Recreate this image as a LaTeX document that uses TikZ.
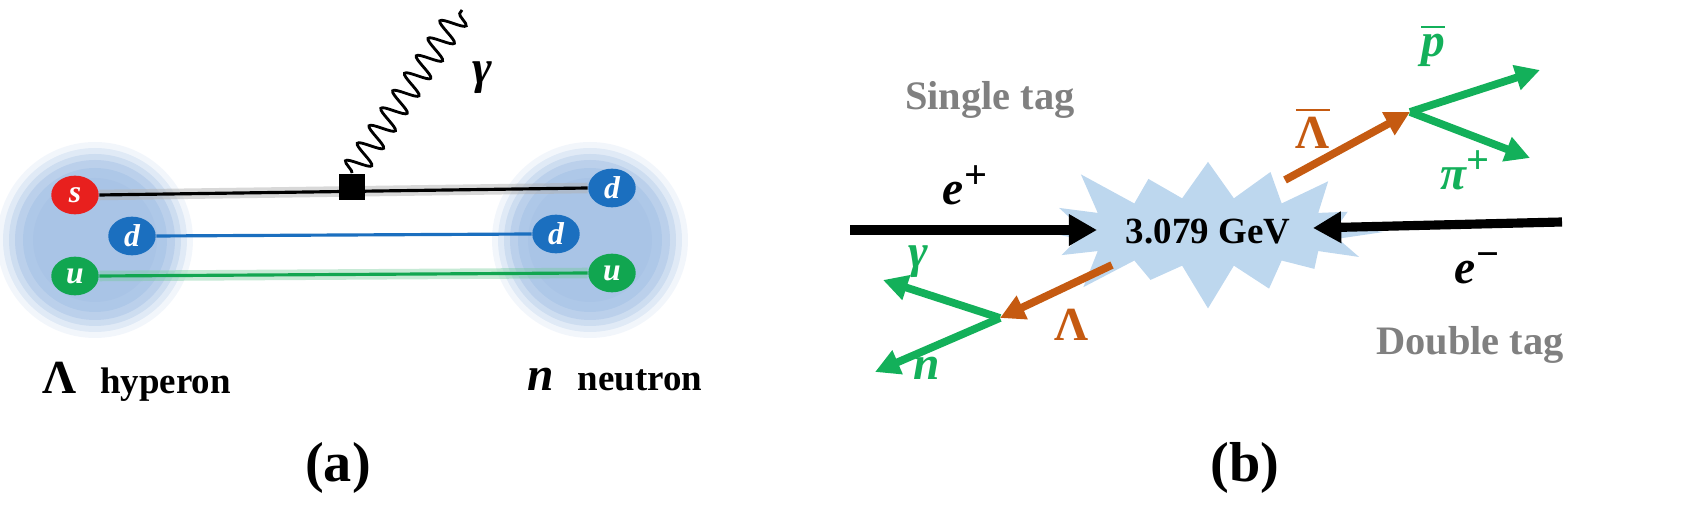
\documentclass[tikz,border=0pt]{standalone}
\usepackage{amsmath}
\usepackage{fontspec}
\setmainfont{Liberation Serif}
\usetikzlibrary{shapes.symbols,shapes.geometric,decorations.pathmorphing,arrows.meta}
\definecolor{blob}{HTML}{A9C4E6}
\definecolor{qred}{HTML}{E8201E}
\definecolor{qblue}{HTML}{1B6FBF}
\definecolor{qgreen}{HTML}{11A650}
\definecolor{pgreen}{HTML}{13B05A}
\definecolor{porange}{HTML}{C55A11}
\definecolor{tgray}{HTML}{808080}
\definecolor{burst}{HTML}{BDD7EE}
\newcommand{\bi}[1]{\textbf{\textit{#1}}}
\newcommand{\bsup}[1]{\raisebox{0.75ex}{\fontsize{11.5}{12}\selectfont\textbf{#1}}}
\tikzset{
 quark/.style={ellipse,minimum width=13.5pt,minimum height=11pt,inner sep=0pt,text=white,font=\fontsize{9}{10}\selectfont\bfseries\itshape},
 lbl/.style={font=\fontsize{13.5}{15}\selectfont\bfseries},
 garrow/.style={pgreen,line width=2.2pt,-{Triangle[length=7pt,width=7pt]}},
 oarrow/.style={porange,line width=2.2pt,-{Triangle[length=7pt,width=7pt]}},
 karrow/.style={black,line width=2.6pt,-{Triangle[length=8pt,width=8.5pt]}},
}
\begin{document}
\begin{tikzpicture}[x=0.01cm,y=-0.01cm]
\useasboundingbox (0,0) rectangle (1690,522);
% blobs
\foreach \cx in {95,590}{
 \foreach \r/\o in {98/0.15,92/0.25,86/0.35,80/0.5,72/0.7,62/1}{
  \fill[blob,opacity=\o] (\cx,240) circle (\r);}}
% quarks
\node[quark,fill=qred] (s) at (75,195) {s};
\node[quark,fill=qblue] (d1) at (132,236) {d};
\node[quark,fill=qgreen] (u1) at (75,276) {u};
\node[quark,fill=qblue] (d2) at (612,188) {d};
\node[quark,fill=qblue] (d3) at (556,234) {d};
\node[quark,fill=qgreen] (u2) at (612,273) {u};
\draw[gray!60,line width=3pt,opacity=0.5] (s.east) -- (d2.west);
\draw[black,line width=0.9pt] (s.east) -- (d2.west);
\draw[qblue,line width=0.9pt] (d1.east) -- (d3.west);
\draw[qgreen!60,line width=3pt,opacity=0.4] (u1.east) -- (u2.west);
\draw[qgreen,line width=0.9pt] (u1.east) -- (u2.west);
\node[fill=black,minimum size=7.5pt,inner sep=0pt] (v) at (352,187) {};
\coordinate (pend) at (462,10);
\draw[line width=0.8pt,decorate,decoration={snake,amplitude=3.5pt,segment length=6pt}] (v.north) -- (pend);
\node[lbl] (g) at (482,78) {\bi{γ}};
\node[lbl,anchor=west] (lam) at (30,382) {Λ\ \ {\fontsize{10.5}{12}\selectfont hyperon}};
\node[lbl,anchor=west] (neu) at (515,380) {\bi{n}\ \ {\fontsize{10.5}{12}\selectfont neutron}};
\node[font=\fontsize{16}{18}\selectfont\bfseries] (a) at (338,468) {(a)};
% panel b
\node[starburst,fill=burst,starburst points=16,starburst point height=0.5cm,minimum width=2.3cm,minimum height=1.5cm,font=\fontsize{10.5}{12}\selectfont\bfseries] (c) at (1208,232) {3.079 GeV};
\coordinate (ep) at (850,230);
\draw[karrow] (ep) -- (1097,230);
\coordinate (em) at (1562,222);
\draw[karrow] (em) -- (1313,228);
\node[lbl] at (965,185) {\bi{e}\bsup{+}};
\node[lbl] at (1477,268) {\bi{e}\bsup{−}};
\node[font=\fontsize{11.5}{13}\selectfont\bfseries,text=tgray] at (990,100) {Single tag};
\node[font=\fontsize{11.5}{13}\selectfont\bfseries,text=tgray] at (1470,345) {Double tag};
\coordinate (lb0) at (1285,180);
\coordinate (lb1) at (1410,112);
\draw[oarrow] (lb0) -- (lb1);
\coordinate (pb) at (1540,70);
\coordinate (pi) at (1530,158);
\draw[garrow] (lb1) -- (pb);
\draw[garrow] (lb1) -- (pi);
\node[lbl,text=porange] at (1313,128) {$\overline{\text{\bfseries Λ}}$};
\node[lbl,text=pgreen] at (1433,45) {$\overline{\text{\bfseries\itshape p}}$};
\node[lbl,text=pgreen] at (1465,170) {\bi{π}\bsup{+}};
\coordinate (l0) at (1112,265);
\coordinate (l1) at (1000,318);
\draw[oarrow] (l0) -- (l1);
\coordinate (gm) at (883,280);
\coordinate (nn) at (875,372);
\draw[garrow] (l1) -- (gm);
\draw[garrow] (l1) -- (nn);
\node[lbl,text=porange] at (1072,325) {Λ};
\node[lbl,text=pgreen] at (918,262) {\bi{γ}};
\node[lbl,text=pgreen] at (927,368) {\bi{n}};
\node[font=\fontsize{16}{18}\selectfont\bfseries] (b) at (1245,468) {(b)};
\end{tikzpicture}
\end{document}
